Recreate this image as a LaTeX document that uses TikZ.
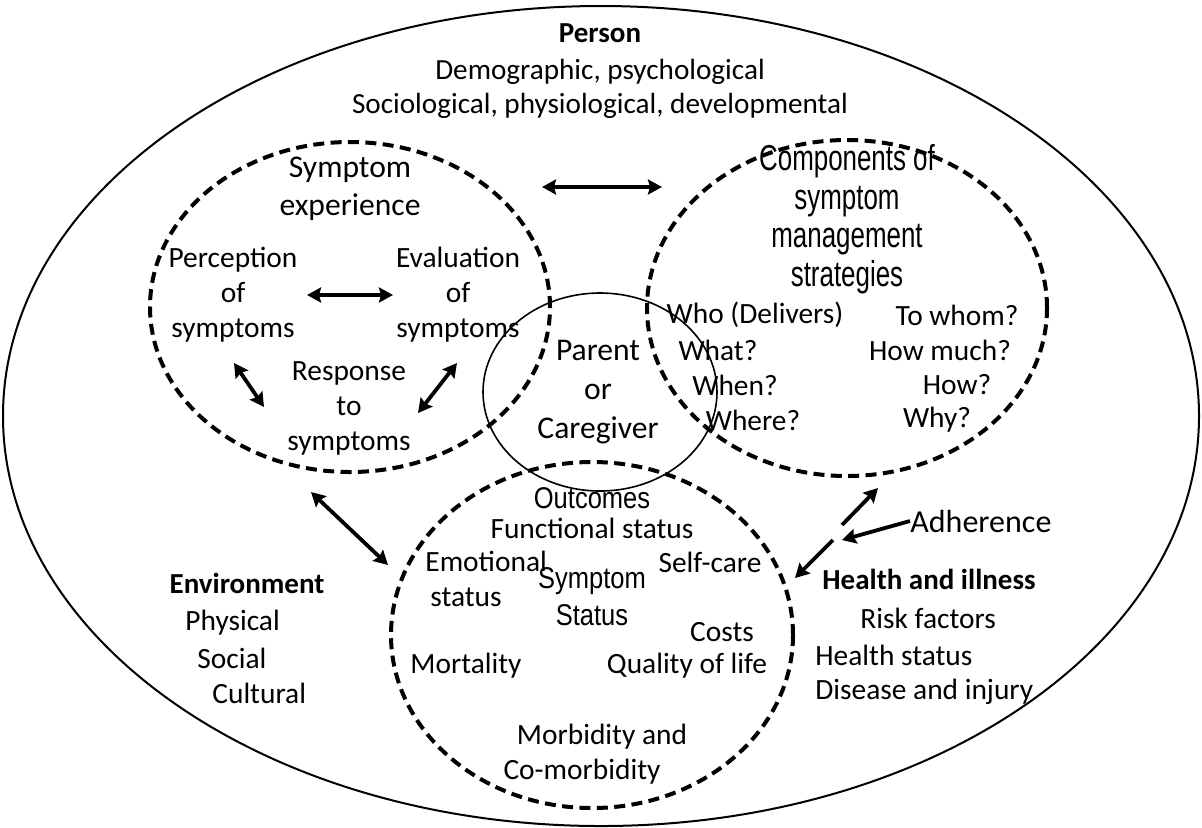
\documentclass[tikz,border=0pt]{standalone}
\usepackage{fontspec}
\setmainfont{Carlito}
\newfontfamily\arialc[FakeStretch=0.72]{Liberation Sans}
\newfontfamily\arialf[FakeStretch=0.85]{Liberation Sans}
\usetikzlibrary{shapes.geometric,arrows.meta}
\begin{document}
\begin{tikzpicture}[x=0.5pt,y=-0.5pt,
  txt/.style={inner sep=0pt,align=center,font=\fontsize{14.7}{17.5}\selectfont},
  txtl/.style={inner sep=0pt,align=left,anchor=west,font=\fontsize{14.7}{17.5}\selectfont},
  bigt/.style={inner sep=0pt,align=center,font=\fontsize{16}{19}\selectfont},
  boldt/.style={inner sep=0pt,align=center,font=\fontsize{14.5}{17}\selectfont\bfseries},
  comp/.style={inner sep=0pt,align=center,font=\fontsize{18}{19.3}\arialc},
  arl/.style={inner sep=0pt,align=center,font=\fontsize{15}{18.5}\arialf},
  dashell/.style={ellipse,draw,inner sep=0pt,line width=2pt,dash pattern=on 5.5pt off 3.2pt},
  solell/.style={ellipse,draw,inner sep=0pt},
  arr/.style={line width=1.9pt,-{Stealth[length=7pt,width=7.5pt,inset=1pt]}},
  darr/.style={line width=1.9pt,{Stealth[length=7pt,width=7.5pt,inset=1pt]}-{Stealth[length=7pt,width=7.5pt,inset=1pt]}}
]
\useasboundingbox (0,0) rectangle (1202,827);
% ellipses
\node[solell,line width=1pt,minimum width=598pt,minimum height=410pt] (person) at (601,416) {};
\node[dashell,minimum width=200pt,minimum height=165pt] (se) at (350,307) {};
\node[dashell,minimum width=200pt,minimum height=168pt] (cm) at (847,308) {};
\node[dashell,minimum width=201pt,minimum height=173pt] (ss) at (592,635) {};
\node[solell,line width=0.8pt,minimum width=117pt,minimum height=99pt] (pc) at (600,392) {};

% Person
\node[boldt] (pt) at (600,33) {Person};
\node[txt,font=\fontsize{14.6}{17}\selectfont] (p1) at (600,72) {Demographic, psychological};
\node[txt,font=\fontsize{14.6}{17}\selectfont] (p2) at (600,106) {Sociological, physiological, developmental};

% Symptom experience
\node[bigt,font=\fontsize{15.8}{19}\selectfont] (set) at (350,189) {Symptom\\experience};
\node[txt] (perc) at (233,295) {Perception\\of\\symptoms};
\node[txt] (eval) at (458,295) {Evaluation\\of\\symptoms};
\node[txt] (resp) at (349,408) {Response\\to\\symptoms};

% Components
\node[comp] (cmt) at (847,219) {Components of\\symptom\\management\\strategies};
\node[txt] (who) at (755,315) {Who (Delivers)};
\node[txt] (whom) at (957,315) {To whom?};
\node[txt] (what) at (718,350) {What?};
\node[txt] (howm) at (940,350) {How much?};
\node[txt] (when) at (735,385) {When?};
\node[txt] (how) at (957,385) {How?};
\node[txt] (where) at (753,420) {Where?};
\node[txt] (why) at (937,420) {Why?};

% Parent
\node[bigt,font=\fontsize{15.8}{19.5}\selectfont] (pct) at (598,392) {Parent\\or\\Caregiver};

% Symptom status
\node[arl] (out) at (592,498) {Outcomes};
\node[txt] (func) at (592,528) {Functional status};
\node[txtl] (emo) at (425,579) {Emotional\\\hspace*{2.5pt}status};
\node[arl] (sst) at (592,597) {Symptom\\Status};
\node[txt] (self) at (710,562) {Self-care};
\node[txt] (cost) at (722,632) {Costs};
\node[txt] (mort) at (466,666) {Mortality};
\node[txt] (qol) at (687,666) {Quality of life};
\node[txt] (morb) at (602,737) {Morbidity and};
\node[txt] (como) at (582,772) {Co-morbidity};

% Environment
\node[boldt] (env) at (247,583) {Environment};
\node[txtl] (phys) at (185,623) {Physical};
\node[txtl] (soc) at (197,658) {Social};
\node[txtl] (cult) at (212,693) {Cultural};

% Health and illness
\node[boldt] (hi) at (929,579) {Health and illness};
\node[txtl] (risk) at (860,618) {Risk factors};
\node[txtl] (hs) at (815,655) {Health status};
\node[txtl] (dis) at (815,692) {Disease and injury};

% Adherence
\node[bigt,anchor=west] (adh) at (910,521) {Adherence};

% arrow end points
\coordinate (a1) at (542,187);
\coordinate (a2) at (662,187);
\coordinate (b1) at (307,295);
\coordinate (b2) at (393,295);
\coordinate (c1) at (234,363);
\coordinate (c2) at (264,407);
\coordinate (d1) at (457,363);
\coordinate (d2) at (418,413);
\coordinate (e1) at (311,492);
\coordinate (e2) at (388,565);
\coordinate (f1) at (842,525);
\coordinate (f2) at (878,488);
\coordinate (g1) at (833,540);
\coordinate (g2) at (795,578);
\coordinate (h2) at (842,540);

\draw[darr] (a1) -- (a2);
\draw[darr] (b1) -- (b2);
\draw[darr] (c1) -- (c2);
\draw[darr] (d1) -- (d2);
\draw[darr] (e1) -- (e2);
\draw[arr] (f1) -- (f2);
\draw[arr] (g1) -- (g2);
\draw[arr] (adh.west) -- (h2);
\end{tikzpicture}
\end{document}
